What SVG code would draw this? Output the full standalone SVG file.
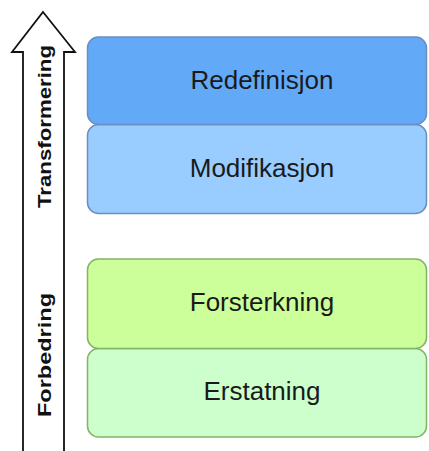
<svg xmlns="http://www.w3.org/2000/svg" width="429" height="451" viewBox="0 0 429 451">
  <style>
    .box { stroke-width: 1.5; }
    .blue { stroke: #6c8ebf; }
    .green { stroke: #82b366; }
    .lbl { font-family: "Liberation Sans", Arial, sans-serif; font-size: 26px; fill: #1a1a1a; text-anchor: middle; }
    .side { font-family: "Liberation Sans", Arial, sans-serif; font-size: 19px; font-weight: bold; fill: #111; text-anchor: middle; }
  </style>
  <rect width="429" height="451" fill="#ffffff"/>
  <g id="connectors">
    <polygon id="arrow" points="43,12 75,52 64,52 64,460 23,460 23,52 12,52" fill="#ffffff" stroke="#111" stroke-width="1.8" stroke-linejoin="miter"/>
  </g>
  <g id="label-transformering">
    <text class="side" transform="translate(51,126.5) rotate(-90)" textLength="163" lengthAdjust="spacingAndGlyphs">Transformering</text>
  </g>
  <g id="label-forbedring">
    <text class="side" transform="translate(51,355) rotate(-90)" textLength="124" lengthAdjust="spacingAndGlyphs">Forbedring</text>
  </g>
  <g id="node-modifikasjon">
    <rect class="box blue" x="87.5" y="124.5" width="339" height="89" rx="11" fill="#99ccff"/>
    <text class="lbl" x="262" y="177">Modifikasjon</text>
  </g>
  <g id="node-redefinisjon">
    <rect class="box blue" x="87.5" y="37" width="339" height="87.5" rx="11" fill="#62aaf8"/>
    <text class="lbl" x="262" y="89">Redefinisjon</text>
  </g>
  <g id="node-erstatning">
    <rect class="box green" x="87.5" y="348.5" width="339" height="88.5" rx="11" fill="#ccffcc"/>
    <text class="lbl" x="262" y="400">Erstatning</text>
  </g>
  <g id="node-forsterkning">
    <rect class="box green" x="87.5" y="259" width="339" height="89.5" rx="11" fill="#ccff99"/>
    <text class="lbl" x="262" y="311">Forsterkning</text>
  </g>
</svg>
